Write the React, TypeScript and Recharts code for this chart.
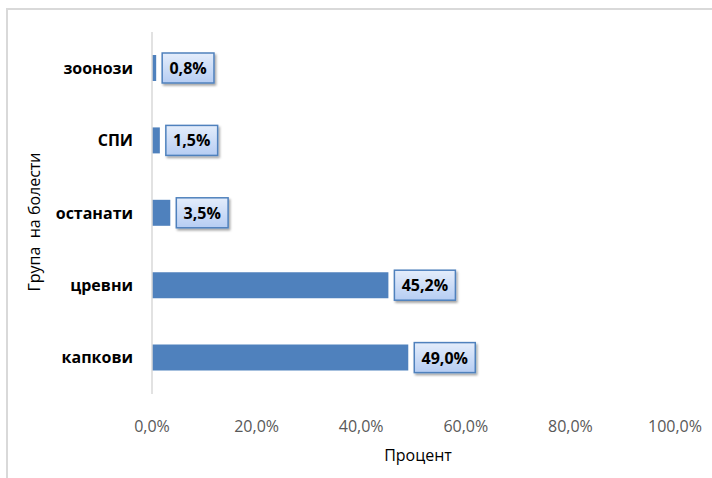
import React from 'react';
import { BarChart, Bar, XAxis, YAxis, LabelList } from 'recharts';

const categories = ['зоонози', 'СПИ', 'останати', 'цревни', 'капкови'];
const percentValues = [0.8, 1.5, 3.5, 45.2, 49.0];
const xTicks = [0, 20, 40, 60, 80, 100];
const xTitle = 'Процент';
const yTitle = 'Група  на болести';

const data = categories.map((name, i) => ({ name, value: percentValues[i] }));

const FONT = '"Open Sans", "Noto Sans", sans-serif';
const fmt = (v: number) => `${v.toFixed(1).replace('.', ',')}%`;

const BoxLabel = (props: any) => {
  const { x, y, width, height, value } = props;
  const text = fmt(Number(value));
  const bw = text.length * 9.2 + 15;
  const bh = 30;
  const bx = Number(x) + Number(width) + 6;
  const cy = Number(y) + Number(height) / 2;
  return (
    <g>
      <rect x={bx} y={cy - bh / 2} width={bw} height={bh} fill="url(#boxGrad)" stroke="#4f81bd" strokeWidth={1.5} filter="url(#boxShadow)" />
      <text x={bx + bw / 2} y={cy + 6} textAnchor="middle" fontFamily={FONT} fontSize={16} fontWeight="bold" fill="#000">
        {text}
      </text>
    </g>
  );
};

export default function App() {
  return (
    <div style={{ position: 'absolute', left: 0, top: 0, width: 712, height: 478, overflow: 'hidden', background: '#fff' }}>
      <div style={{ position: 'absolute', left: 6, top: 8, width: 740, height: 500, border: '2px solid #d9d9d9', boxSizing: 'border-box' }} />
      <div style={{ position: 'absolute', left: 0, top: 0 }}>
        <BarChart width={712} height={478} data={data} layout="vertical" margin={{ top: 32, right: 37, bottom: 54, left: 0 }}>
          <defs>
            <linearGradient id="boxGrad" x1="0" y1="0" x2="0" y2="1">
              <stop offset="0%" stopColor="#e4edfb" />
              <stop offset="100%" stopColor="#b6cdf3" />
            </linearGradient>
            <filter id="boxShadow" x="-20%" y="-20%" width="150%" height="160%">
              <feDropShadow dx="1.5" dy="2" stdDeviation="1.2" floodColor="#000" floodOpacity="0.35" />
            </filter>
          </defs>
          <XAxis
            type="number"
            domain={[0, 100]}
            ticks={xTicks}
            tickFormatter={fmt}
            axisLine={false}
            tickLine={false}
            tickSize={0}
            tickMargin={27}
            height={30}
            tick={{ fill: '#595959', fontSize: 16, fontFamily: FONT }}
            label={{
              content: () => (
                <text x={418} y={461} textAnchor="middle" fontFamily={FONT} fontSize={16} fill="#000">
                  {xTitle}
                </text>
              ),
            }}
          />
          <YAxis
            type="category"
            dataKey="name"
            width={152}
            tickLine={false}
            tickSize={0}
            tickMargin={19}
            axisLine={{ stroke: '#d9d9d9', strokeWidth: 1.5 }}
            tick={{ fill: '#000', fontSize: 16, fontWeight: 'bold', fontFamily: FONT }}
            label={{
              content: () => (
                <text
                  x={0}
                  y={0}
                  transform="translate(40,222) rotate(-90)"
                  textAnchor="middle"
                  fontFamily={FONT}
                  fontSize={16}
                  fill="#000"
                  style={{ whiteSpace: 'pre' }}
                >
                  {yTitle}
                </text>
              ),
            }}
          />
          <Bar dataKey="value" fill="#4f81bd" barSize={26} isAnimationActive={false}>
            <LabelList dataKey="value" content={BoxLabel} />
          </Bar>
        </BarChart>
      </div>
    </div>
  );
}
